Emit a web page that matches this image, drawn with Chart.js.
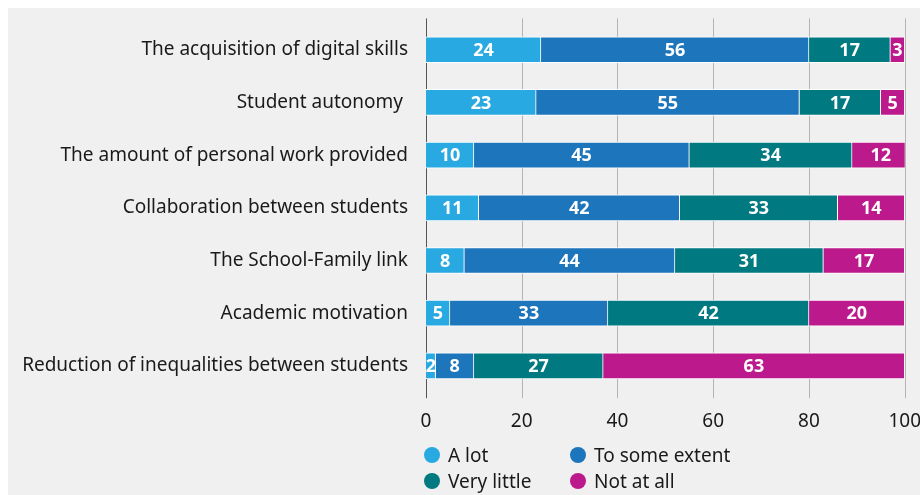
<!DOCTYPE html>
<html>
<head>
<meta charset="utf-8">
<script src="https://cdn.jsdelivr.net/npm/chart.js@4/dist/chart.umd.min.js"></script>
<style>
  body { margin: 0; background: #fff; font-family: "Noto Sans", sans-serif; overflow: hidden; }
  #panel { position: absolute; left: 8px; top: 8px; width: 912px; height: 487px; background: #f0f0f0; }
  #chart-wrap { position: absolute; left: 0; top: -6px; width: 923px; height: 487px; }
  #legend { position: absolute; left: 416px; top: 435px; display: grid; grid-template-columns: 146px 200px; row-gap: 3px; font-size: 19px; color: #1a1a1a; }
  .item { display: flex; align-items: center; height: 23px; }
  .dot { width: 16px; height: 16px; border-radius: 50%; margin-right: 8px; }
</style>
</head>
<body>
<div id="panel">
  <div id="chart-wrap"><canvas id="chart"></canvas></div>
  <div id="legend"></div>
</div>
<script>
// Categories and series values (percentages)
const categories = [
  "The acquisition of digital skills",
  "Student autonomy ",
  "The amount of personal work provided",
  "Collaboration between students",
  "The School-Family link",
  "Academic motivation",
  "Reduction of inequalities between students"
];
const seriesNames = ["A lot", "To some extent", "Very little", "Not at all"];
const aLot = [24, 23, 10, 11, 8, 5, 2];
const toSomeExtent = [56, 55, 45, 42, 44, 33, 8];
const veryLittle = [17, 17, 34, 33, 31, 42, 27];
const notAtAll = [3, 5, 12, 14, 17, 20, 63];
const xTicks = [0, 20, 40, 60, 80, 100];

const colors = ["#29a9e1", "#1d75bb", "#007a80", "#bc1a8c"];
const values = [aLot, toSomeExtent, veryLittle, notAtAll];

// Draw vertical gridlines behind the bars, slightly past the chart area
const gridPlugin = {
  id: "gridLines",
  beforeDatasetsDraw(chart) {
    const ctx = chart.ctx;
    const x = chart.scales.x;
    const area = chart.chartArea;
    ctx.save();
    xTicks.forEach(v => {
      const px = Math.round(x.getPixelForValue(v)) + 0.5;
      ctx.strokeStyle = v === 0 ? "#555" : "#b4b4b4";
      ctx.lineWidth = 1;
      ctx.beginPath();
      ctx.moveTo(px, area.top - 5);
      ctx.lineTo(px, area.bottom + 6);
      ctx.stroke();
    });
    ctx.restore();
  }
};

// White value labels in the middle of each segment
const labelPlugin = {
  id: "barLabels",
  afterDatasetsDraw(chart) {
    const ctx = chart.ctx;
    ctx.save();
    ctx.font = "bold 18px 'Noto Sans', sans-serif";
    ctx.fillStyle = "#fff";
    ctx.textAlign = "center";
    ctx.textBaseline = "middle";
    chart.data.datasets.forEach((ds, i) => {
      chart.getDatasetMeta(i).data.forEach((bar, j) => {
        const p = bar.getProps(["x", "y", "base"], true);
        ctx.fillText(ds.data[j], (p.x + p.base) / 2, p.y + 1);
      });
    });
    ctx.restore();
  }
};

new Chart(document.getElementById("chart"), {
  type: "bar",
  data: {
    labels: categories,
    datasets: seriesNames.map((name, i) => ({
      label: name,
      data: values[i],
      backgroundColor: colors[i],
      borderColor: "#ffffff",
      borderWidth: 1,
      barThickness: 26
    }))
  },
  options: {
    indexAxis: "y",
    responsive: true,
    maintainAspectRatio: false,
    animation: false,
    layout: { padding: { top: 5, right: 0, bottom: 46, left: 0 } },
    plugins: { legend: { display: false }, tooltip: { enabled: false } },
    scales: {
      x: {
        stacked: true,
        min: 0,
        max: 100,
        afterBuildTicks(scale) { scale.ticks = xTicks.map(v => ({ value: v })); },
        grid: { display: false },
        border: { display: false },
        ticks: { color: "#1a1a1a", padding: 10, font: { family: "Noto Sans", size: 19 } }
      },
      y: {
        stacked: true,
        grid: { display: false },
        border: { display: false },
        afterFit(scale) { scale.width = 418; },
        ticks: { color: "#1a1a1a", padding: 10, font: { family: "Noto Sans", size: 19 } }
      }
    }
  },
  plugins: [gridPlugin, labelPlugin]
});

// Two-column legend
const legend = document.getElementById("legend");
[0, 1, 2, 3].forEach(i => {
  const item = document.createElement("div");
  item.className = "item";
  item.innerHTML = `<span class="dot" style="background:${colors[i]}"></span>${seriesNames[i]}`;
  legend.appendChild(item);
});
</script>
</body>
</html>
